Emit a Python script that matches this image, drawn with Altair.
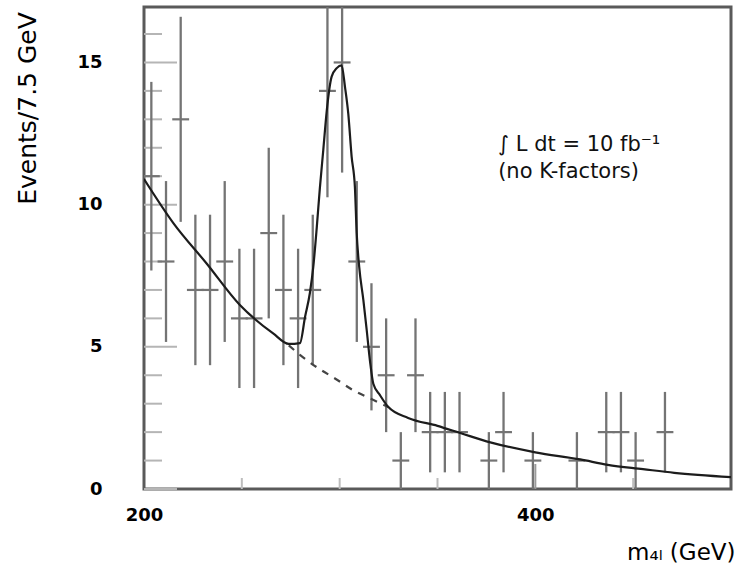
import altair as alt
import pandas as pd
import numpy as np

# ---- data ----
bin_centers = [203.75, 211.25, 218.75, 226.25, 233.75, 241.25, 248.75, 256.25, 263.75, 271.25,
               278.75, 286.25, 293.75, 301.25, 308.75, 316.25, 323.75, 331.25, 338.75, 346.25,
               353.75, 361.25, 368.75, 376.25, 383.75, 391.25, 398.75, 406.25, 413.75, 421.25,
               428.75, 436.25, 443.75, 451.25, 458.75, 466.25, 473.75, 481.25, 488.75, 496.25]
counts = [11, 8, 13, 7, 7, 8, 6, 6, 9, 7,
          6, 7, 14, 15, 8, 5, 4, 1, 4, 2,
          2, 2, 0, 1, 2, 0, 1, 0, 0, 1,
          0, 2, 2, 1, 0, 2, 0, 0, 0, 0]
bin_width = 7.5

# signal + background curve (solid)
tot_x = [200, 215, 232, 249, 266, 274, 279.7, 282.3, 284.8, 286.5, 288.3, 289.9, 291.6, 293.4,
         295.9, 298.5, 301.0, 302.7, 304.4, 306.1, 307.8, 308.7, 310.0, 312.1, 313.8, 315.5,
         317.2, 320.6, 324.9, 335, 350, 362, 377, 400, 423, 437, 455, 471, 500]
tot_y = [10.9, 9.35, 7.93, 6.47, 5.47, 5.1, 5.13, 6.05, 6.9, 7.8, 9.2, 10.6, 11.9, 13.3,
         14.5, 14.8, 14.9, 14.15, 13.2, 11.7, 10.6, 9.0, 7.8, 6.65, 5.6, 4.5,
         3.7, 3.3, 2.88, 2.5, 2.22, 1.96, 1.64, 1.29, 1.04, 0.85, 0.70, 0.57, 0.42]

# background under the peak (dashed)
bkg_x = [274, 280, 289, 298, 307, 316, 325]
bkg_y = [5.05, 4.7, 4.25, 3.87, 3.47, 3.17, 2.88]

y_ticks_major = [0, 5, 10, 15]
y_ticks_minor = [1, 2, 3, 4, 6, 7, 8, 9, 11, 12, 13, 14, 16]
x_ticks_minor = [250, 300, 350, 450]
x_ticks_major = [400]
x_labels = [200, 400]

note_lines = ["\u222b L dt = 10 fb\u207b\u00b9", "(no K-factors)"]
note_x = [381, 381]
note_y = [12.1, 11.15]

# ---- tables ----
pts = pd.DataFrame({"m": bin_centers, "n": counts})
pts = pts[pts["n"] > 0].copy()
pts["lo"] = np.clip(pts["n"] - np.sqrt(pts["n"]), 0, None)
pts["hi"] = pts["n"] + np.sqrt(pts["n"])
pts["xl"] = pts["m"] - bin_width / 2
pts["xr"] = pts["m"] + bin_width / 2

tot = pd.DataFrame({"m": tot_x, "v": tot_y})
bkg = pd.DataFrame({"m": bkg_x, "v": bkg_y})
notes = pd.DataFrame({"m": note_x, "v": note_y, "t": note_lines})

FONT = "DejaVu Sans"
xs = alt.Scale(domain=[200, 500], nice=False, zero=False)
ys = alt.Scale(domain=[0, 16.95], nice=False, zero=True)

x_axis = alt.Axis(values=x_labels, format="d", grid=False, ticks=False, tickSize=0, domain=False,
                  labelFont=FONT, labelFontSize=18, labelFontWeight="bold", labelColor="#000",
                  labelFlush=False, labelPadding=26, labelBaseline="middle",
                  title="m\u2084\u2097 (GeV)", titleFont=FONT, titleFontSize=23, titleFontWeight="normal",
                  titleColor="#000", titleX=591, titleY=63, titleAlign="right", titleBaseline="middle")
y_axis = alt.Axis(values=y_ticks_major, grid=False, ticks=False, tickSize=0, domain=False,
                  labelFont=FONT, labelFontSize=18, labelFontWeight="bold", labelColor="#000",
                  labelPadding=42, labelBaseline="middle",
                  title="Events/7.5 GeV", titleFont=FONT, titleFontSize=25, titleFontWeight="normal",
                  titleColor="#000", titleX=-117, titleY=101, titleAngle=270,
                  titleAlign="center", titleBaseline="middle")

GRAY = "#747474"

vbars = alt.Chart(pts).mark_rule(color=GRAY, strokeWidth=2.3, clip=True).encode(
    x=alt.X("m:Q", scale=xs, axis=x_axis),
    y=alt.Y("lo:Q", scale=ys, axis=y_axis),
    y2="hi:Q",
)
hbars = alt.Chart(pts).mark_rule(color=GRAY, strokeWidth=2.2, strokeCap="square", clip=True).encode(
    x=alt.X("xl:Q", scale=xs), x2="xr:Q", y=alt.Y("n:Q", scale=ys)
)
total_line = alt.Chart(tot).mark_line(color="#1c1c1c", strokeWidth=2.2, interpolate="monotone", clip=True).encode(
    x=alt.X("m:Q", scale=xs), y=alt.Y("v:Q", scale=ys)
)
bkg_line = alt.Chart(bkg).mark_line(color="#444444", strokeWidth=2.2, strokeDash=[7, 7],
                                    interpolate="monotone", clip=True).encode(
    x=alt.X("m:Q", scale=xs), y=alt.Y("v:Q", scale=ys)
)

ytick_min = alt.Chart(pd.DataFrame({"v": y_ticks_minor})).mark_rule(color="#b5b5b5", strokeWidth=2).encode(
    y=alt.Y("v:Q", scale=ys), x=alt.value(0), x2=alt.value(18)
)
ytick_maj = alt.Chart(pd.DataFrame({"v": y_ticks_major})).mark_rule(color="#b5b5b5", strokeWidth=2).encode(
    y=alt.Y("v:Q", scale=ys), x=alt.value(0), x2=alt.value(33)
)
xtick_min = alt.Chart(pd.DataFrame({"m": x_ticks_minor})).mark_rule(color="#bdbdbd", strokeWidth=2).encode(
    x=alt.X("m:Q", scale=xs), y=alt.value(482), y2=alt.value(471)
)
xtick_maj = alt.Chart(pd.DataFrame({"m": x_ticks_major})).mark_rule(color="#9a9a9a", strokeWidth=2).encode(
    x=alt.X("m:Q", scale=xs), y=alt.value(482), y2=alt.value(457)
)

note_text = alt.Chart(notes).mark_text(align="left", baseline="middle", font=FONT, fontSize=21,
                                       fontWeight="normal", color="#111").encode(
    x=alt.X("m:Q", scale=xs), y=alt.Y("v:Q", scale=ys), text="t:N"
)

chart = alt.layer(
    ytick_min, ytick_maj, xtick_min, xtick_maj,
    vbars, hbars, bkg_line, total_line, note_text
).properties(
    width=587, height=482,
    padding={"left": 144, "top": 7, "right": 11, "bottom": 84},
    autosize=alt.AutoSizeParams(type="none"),
    background="white",
).configure_view(stroke="#5a5a5a", strokeWidth=3)

chart.save("out.html", embed_options={"renderer": "svg", "actions": False})
